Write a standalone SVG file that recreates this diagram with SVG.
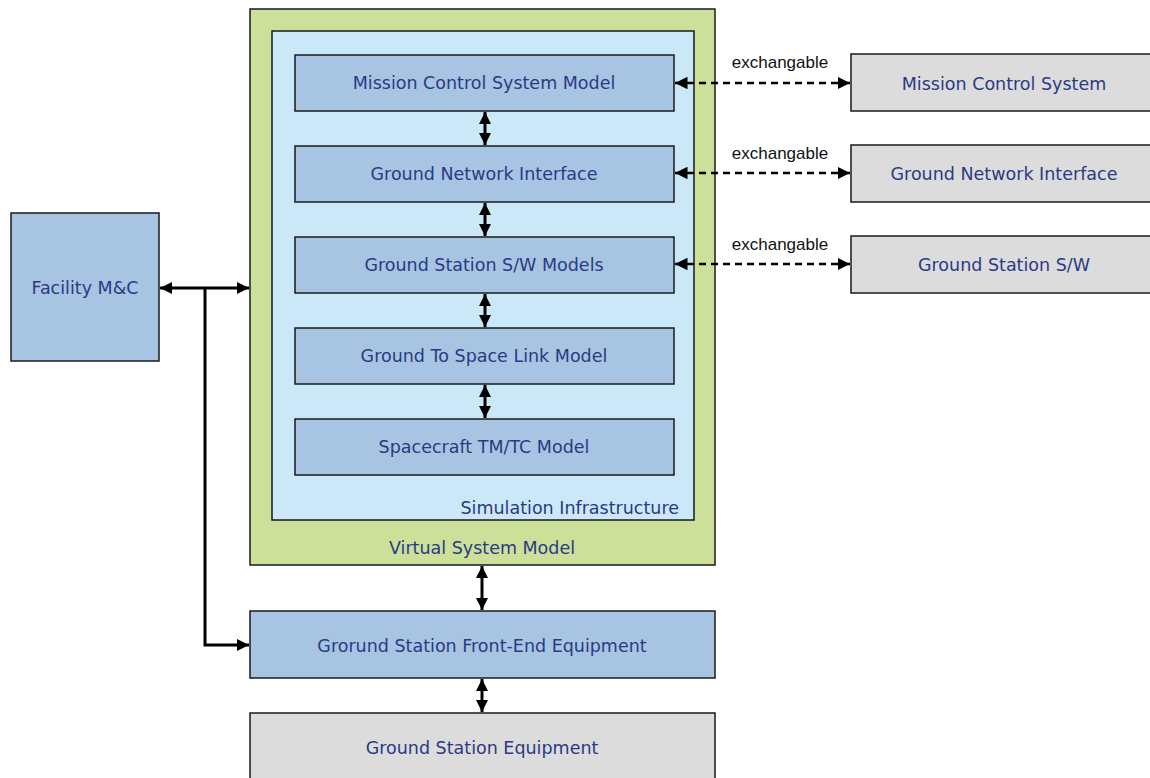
<svg xmlns="http://www.w3.org/2000/svg" width="1150" height="778" viewBox="0 0 1150 778">
<style>
.box{stroke:#1a1a1a;stroke-width:1.5}
.blue{fill:#a7c4e2}
.gray{fill:#dcdcdc}
.t{font-family:"DejaVu Sans",Verdana,sans-serif;font-size:17.5px;fill:#2b3a84;text-anchor:middle;dominant-baseline:central}
.lbl{font-family:"Liberation Sans",Arial,sans-serif;font-size:17px;fill:#111;text-anchor:middle}
.c{stroke:#000;stroke-width:3;fill:none}
.d{stroke:#000;stroke-width:2.5;fill:none;stroke-dasharray:7,5}
</style>
<defs>
<marker id="ah" viewBox="0 0 10 10" refX="10" refY="5" markerWidth="4" markerHeight="4" orient="auto-start-reverse" markerUnits="strokeWidth">
<path d="M0,0 L10,5 L0,10 z" fill="#000"/>
</marker>
<marker id="ahd" viewBox="0 0 10 10" refX="10" refY="5" markerWidth="5" markerHeight="5" orient="auto-start-reverse" markerUnits="strokeWidth">
<path d="M0,0 L10,5 L0,10 z" fill="#000"/>
</marker>
</defs>
<g id="virtual-system-model">
<rect class="box" x="250" y="9" width="465" height="556" fill="#cde09a"/>
<text class="t" x="482" y="548">Virtual System Model</text>
</g>
<g id="simulation-infrastructure">
<rect class="box" x="272" y="31" width="422" height="489" fill="#cbe8f8"/>
<text class="t" x="679" y="508" style="text-anchor:end">Simulation Infrastructure</text>
</g>
<g id="mcs-model"><rect class="box blue" x="295" y="55" width="379" height="56"/><text class="t" x="484" y="83">Mission Control System Model</text></g>
<g id="gni-model"><rect class="box blue" x="295" y="146" width="379" height="56"/><text class="t" x="484" y="174">Ground Network Interface</text></g>
<g id="gs-sw-models"><rect class="box blue" x="295" y="237" width="379" height="56"/><text class="t" x="484" y="265">Ground Station S/W Models</text></g>
<g id="g2s-link"><rect class="box blue" x="295" y="328" width="379" height="56"/><text class="t" x="484" y="356">Ground To Space Link Model</text></g>
<g id="sc-tmtc"><rect class="box blue" x="295" y="419" width="379" height="56"/><text class="t" x="484" y="447">Spacecraft TM/TC Model</text></g>
<g id="facility"><rect class="box blue" x="11" y="213" width="148" height="148"/><text class="t" x="85" y="288">Facility M&amp;C</text></g>
<g id="mcs"><rect class="box gray" x="851" y="54" width="305" height="57"/><text class="t" x="1004" y="84">Mission Control System</text></g>
<g id="gni"><rect class="box gray" x="851" y="145" width="305" height="57"/><text class="t" x="1004" y="174">Ground Network Interface</text></g>
<g id="gs-sw"><rect class="box gray" x="851" y="236" width="305" height="57"/><text class="t" x="1004" y="265">Ground Station S/W</text></g>
<g id="front-end"><rect class="box blue" x="250" y="611" width="465" height="67"/><text class="t" x="482" y="646">Grorund Station Front-End Equipment</text></g>
<g id="gs-equipment"><rect class="box gray" x="250" y="713" width="465" height="70"/><text class="t" x="482" y="748">Ground Station Equipment</text></g>
<g id="connectors">
<line class="c" x1="485" y1="112" x2="485" y2="145" marker-start="url(#ah)" marker-end="url(#ah)"/>
<line class="c" x1="485" y1="203" x2="485" y2="236" marker-start="url(#ah)" marker-end="url(#ah)"/>
<line class="c" x1="485" y1="294" x2="485" y2="327" marker-start="url(#ah)" marker-end="url(#ah)"/>
<line class="c" x1="485" y1="385" x2="485" y2="418" marker-start="url(#ah)" marker-end="url(#ah)"/>
<line class="c" x1="482" y1="566" x2="482" y2="610" marker-start="url(#ah)" marker-end="url(#ah)"/>
<line class="c" x1="482" y1="679" x2="482" y2="712" marker-start="url(#ah)" marker-end="url(#ah)"/>
<line class="c" x1="160" y1="288" x2="249" y2="288" marker-start="url(#ah)" marker-end="url(#ah)"/>
<polyline class="c" points="205,288 205,645 249,645" marker-end="url(#ah)"/>
<line class="d" x1="675" y1="83" x2="850" y2="83" marker-start="url(#ahd)" marker-end="url(#ahd)"/>
<line class="d" x1="675" y1="173" x2="850" y2="173" marker-start="url(#ahd)" marker-end="url(#ahd)"/>
<line class="d" x1="675" y1="264" x2="850" y2="264" marker-start="url(#ahd)" marker-end="url(#ahd)"/>
<text class="lbl" x="780" y="68">exchangable</text>
<text class="lbl" x="780" y="159">exchangable</text>
<text class="lbl" x="780" y="250">exchangable</text>
</g>
</svg>
